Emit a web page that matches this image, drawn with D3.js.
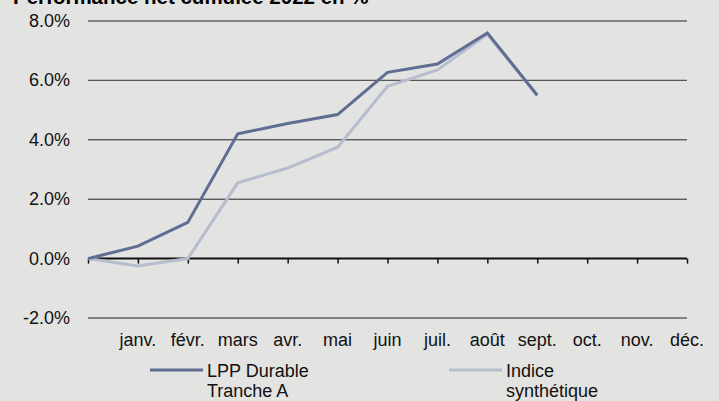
<!DOCTYPE html>
<html>
<head>
<meta charset="utf-8">
<script src="https://cdn.jsdelivr.net/npm/d3@7"></script>
<style>
  body { margin: 0; background: #e3e3e1; }
  svg { display: block; font-family: "Liberation Sans", Arial, sans-serif; }
</style>
</head>
<body>
<svg id="canvas"></svg>
<script>
// months (first slot is the start of the year, no label)
const months = ['', 'janv.', 'févr.', 'mars', 'avr.', 'mai', 'juin', 'juil.', 'août', 'sept.', 'oct.', 'nov.', 'déc.'];
const lppValues = [0, 0.42, 1.22, 4.2, 4.55, 4.85, 6.27, 6.55, 7.6, 5.5];
const indexValues = [0, -0.25, 0, 2.55, 3.05, 3.75, 5.8, 6.35, 7.55, 5.5];
const yTicks = [-2, 0, 2, 4, 6, 8];
const seriesNames = [['LPP Durable', 'Tranche A'], ['Indice', 'synthétique']];
const seriesColors = ['#5f6d93', '#b5bdce'];

let width = 719;
let height = 401;

let canvas = d3.select('#canvas');
canvas.attr('width', width);
canvas.attr('height', height);

let xScale = d3.scaleLinear()
    .domain([0, months.length - 1])
    .range([88, 687]);

let yScale = d3.scaleLinear()
    .domain([-2, 8])
    .range([318, 21]);

// title (partly cut off at the top, as in the source)
canvas.append('text')
    .attr('x', 13)
    .attr('y', 4)
    .attr('font-size', 20.5)
    .attr('font-weight', 'bold')
    .text('Performance net cumulée 2022 en %');

// gridlines
canvas.selectAll('line.grid')
    .data(yTicks.filter(d => d !== 0))
    .enter()
    .append('line')
    .attr('class', 'grid')
    .attr('x1', xScale(0))
    .attr('x2', xScale(12))
    .attr('y1', d => yScale(d))
    .attr('y2', d => yScale(d))
    .attr('stroke', d => d === 6 ? '#555' : '#222')
    .attr('stroke-width', d => d === 6 ? 1.4 : 1);

// y labels
canvas.selectAll('text.ylab')
    .data(yTicks)
    .enter()
    .append('text')
    .attr('class', 'ylab')
    .attr('x', 70)
    .attr('y', d => yScale(d) + 6)
    .attr('text-anchor', 'end')
    .attr('font-size', 18)
    .attr('fill', '#111')
    .text(d => d.toFixed(1) + '%');

// zero axis with ticks
let xAxis = d3.axisBottom(xScale)
    .tickValues(d3.range(0, 13))
    .tickSize(5)
    .tickFormat('');

let axisG = canvas.append('g')
    .attr('transform', 'translate(0,' + yScale(0) + ')')
    .call(xAxis);
axisG.select('.domain').attr('stroke', '#111').attr('stroke-width', 2)
    .attr('d', 'M' + xScale(0) + ',0H' + xScale(12));
axisG.selectAll('.tick line').attr('stroke', '#111').attr('stroke-width', 1.5);

// month labels
canvas.selectAll('text.month')
    .data(months.slice(1))
    .enter()
    .append('text')
    .attr('class', 'month')
    .attr('x', (d, i) => xScale(i + 1))
    .attr('y', 346)
    .attr('text-anchor', 'middle')
    .attr('font-size', 18)
    .attr('fill', '#111')
    .text(d => d);

// lines
let line = d3.line()
    .x((d, i) => xScale(i))
    .y(d => yScale(d));

[indexValues, lppValues].forEach((vals, k) => {
    canvas.append('path')
        .datum(vals)
        .attr('d', line)
        .attr('fill', 'none')
        .attr('stroke', k === 0 ? seriesColors[1] : seriesColors[0])
        .attr('stroke-width', 3)
        .attr('stroke-linejoin', 'miter');
});

// legend
const legendX = [150, 449];
seriesNames.forEach((names, i) => {
    let g = canvas.append('g').attr('transform', 'translate(' + legendX[i] + ',370)');
    g.append('line')
        .attr('x1', 0).attr('x2', 53)
        .attr('stroke', seriesColors[i])
        .attr('stroke-width', 3);
    names.forEach((n, j) => {
        g.append('text')
            .attr('x', 57)
            .attr('y', 7 + j * 20)
            .attr('font-size', 18)
            .attr('fill', '#111')
            .text(n);
    });
});
</script>
</body>
</html>
